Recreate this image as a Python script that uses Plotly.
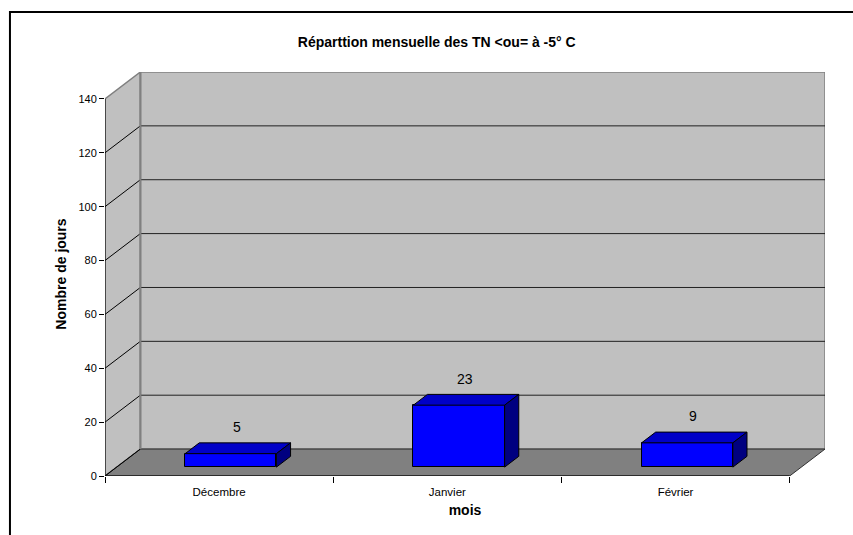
import plotly.graph_objects as go

# Data
months = ["Décembre", "Janvier", "Février"]
days = [5, 23, 9]
y_ticks = [0, 20, 40, 60, 80, 100, 120, 140]
y_top = 140

# 3D look: depth of the chart box in data units, and bar depth fractions
DX, DY = 0.155, 10.0
F0, F1 = 0.33, 0.73
HALF_W = 0.2

FONT = "Liberation Sans, Arial, sans-serif"
x_lo, x_hi = -0.5, len(months) - 0.5

fig = go.Figure()

# Front faces of the bars
fig.add_trace(go.Bar(
    x=[i + F0 * DX for i in range(len(months))],
    y=days,
    base=F0 * DY,
    width=2 * HALF_W,
    marker=dict(color="#0000FF", line=dict(color="black", width=1)),
    hoverinfo="skip",
    showlegend=False,
))

# Top and side faces of the bars
for i, v in enumerate(days):
    xl, xr = i - HALF_W, i + HALF_W
    top_x = [xl + F0 * DX, xr + F0 * DX, xr + F1 * DX, xl + F1 * DX, xl + F0 * DX]
    top_y = [v + F0 * DY, v + F0 * DY, v + F1 * DY, v + F1 * DY, v + F0 * DY]
    fig.add_trace(go.Scatter(x=top_x, y=top_y, mode="lines", fill="toself",
                             fillcolor="#0000C8", line=dict(color="black", width=1),
                             hoverinfo="skip", showlegend=False))
    side_x = [xr + F0 * DX, xr + F0 * DX, xr + F1 * DX, xr + F1 * DX, xr + F0 * DX]
    side_y = [F0 * DY, v + F0 * DY, v + F1 * DY, F1 * DY, F0 * DY]
    fig.add_trace(go.Scatter(x=side_x, y=side_y, mode="lines", fill="toself",
                             fillcolor="#000080", line=dict(color="black", width=1),
                             hoverinfo="skip", showlegend=False))

shapes = []
# Back wall
shapes.append(dict(type="rect", xref="x", yref="y", layer="below",
                   x0=x_lo + DX, x1=x_hi + DX, y0=DY, y1=y_top + DY,
                   fillcolor="#C0C0C0", line=dict(color="#808080", width=1.5)))
# Side wall
shapes.append(dict(type="path", xref="x", yref="y", layer="below",
                   path=f"M {x_lo},0 L {x_lo},{y_top} L {x_lo + DX},{y_top + DY} L {x_lo + DX},{DY} Z",
                   fillcolor="#C0C0C0", line=dict(color="#808080", width=1.5)))
# Floor
shapes.append(dict(type="path", xref="x", yref="y", layer="below",
                   path=f"M {x_lo},0 L {x_hi},0 L {x_hi + DX},{DY} L {x_lo + DX},{DY} Z",
                   fillcolor="#808080", line=dict(color="#303030", width=1)))
# Gridlines on the back wall and the side wall
for t in y_ticks[1:-1]:
    shapes.append(dict(type="line", xref="x", yref="y", layer="below",
                       x0=x_lo + DX, x1=x_hi + DX, y0=t + DY, y1=t + DY,
                       line=dict(color="#202020", width=1)))
for t in y_ticks[:-1]:
    shapes.append(dict(type="line", xref="x", yref="y", layer="below",
                       x0=x_lo, x1=x_lo + DX, y0=t, y1=t + DY,
                       line=dict(color="black", width=1)))
# Back wall vertical edge
shapes.append(dict(type="line", xref="x", yref="y", layer="below",
                   x0=x_lo + DX, x1=x_lo + DX, y0=DY, y1=y_top + DY,
                   line=dict(color="#808080", width=2)))
# Front axis lines
shapes.append(dict(type="line", xref="x", yref="y",
                   x0=x_lo, x1=x_lo, y0=0, y1=y_top, line=dict(color="black", width=1)))
shapes.append(dict(type="line", xref="x", yref="y",
                   x0=x_lo, x1=x_hi, y0=0, y1=0, line=dict(color="black", width=1)))
# Chart frame
shapes.append(dict(type="rect", xref="paper", yref="paper",
                   x0=-0.132, x1=1.3, y0=-0.4, y1=1.1485,
                   line=dict(color="black", width=2), fillcolor="rgba(0,0,0,0)"))

annotations = []
for i, v in enumerate(days):
    annotations.append(dict(x=i + 0.5 * DX, y=v + 13.1, xref="x", yref="y",
                            text=str(v), showarrow=False, yanchor="middle",
                            font=dict(family=FONT, size=14, color="black")))

fig.update_layout(
    width=853, height=535,
    margin=dict(l=105, r=28, t=72, b=59),
    paper_bgcolor="white", plot_bgcolor="white",
    shapes=shapes, annotations=annotations,
    title=dict(text="<b>Réparttion mensuelle des TN <ou= à -5° C</b>",
               x=0.512, xref="container", y=1 - 41.7 / 535, yref="container",
               xanchor="center", yanchor="middle",
               font=dict(family=FONT, size=14, color="black")),
    xaxis=dict(range=[x_lo, x_hi + DX], tickvals=list(range(len(months))),
               ticktext=months, ticks="", showgrid=False, zeroline=False,
               showline=False, ticklabelstandoff=7,
               tickfont=dict(family=FONT, size=11.5, color="black"),
               minor=dict(tickvals=[x_lo + k for k in range(len(months) + 1)],
                          ticks="outside", ticklen=6, tickcolor="black", tickwidth=1),
               title=dict(text="<b>mois</b>", standoff=8,
                          font=dict(family=FONT, size=14, color="black"))),
    yaxis=dict(range=[0, y_top + DY], tickvals=y_ticks, ticks="outside",
               ticklen=5, tickcolor="black", showgrid=False, zeroline=False,
               showline=False,
               tickfont=dict(family=FONT, size=11, color="black"),
               title=dict(text="<b>Nombre de jours</b>", standoff=8,
                          font=dict(family=FONT, size=14, color="black"))),
    bargap=0,
)

fig.write_html("out.html")
